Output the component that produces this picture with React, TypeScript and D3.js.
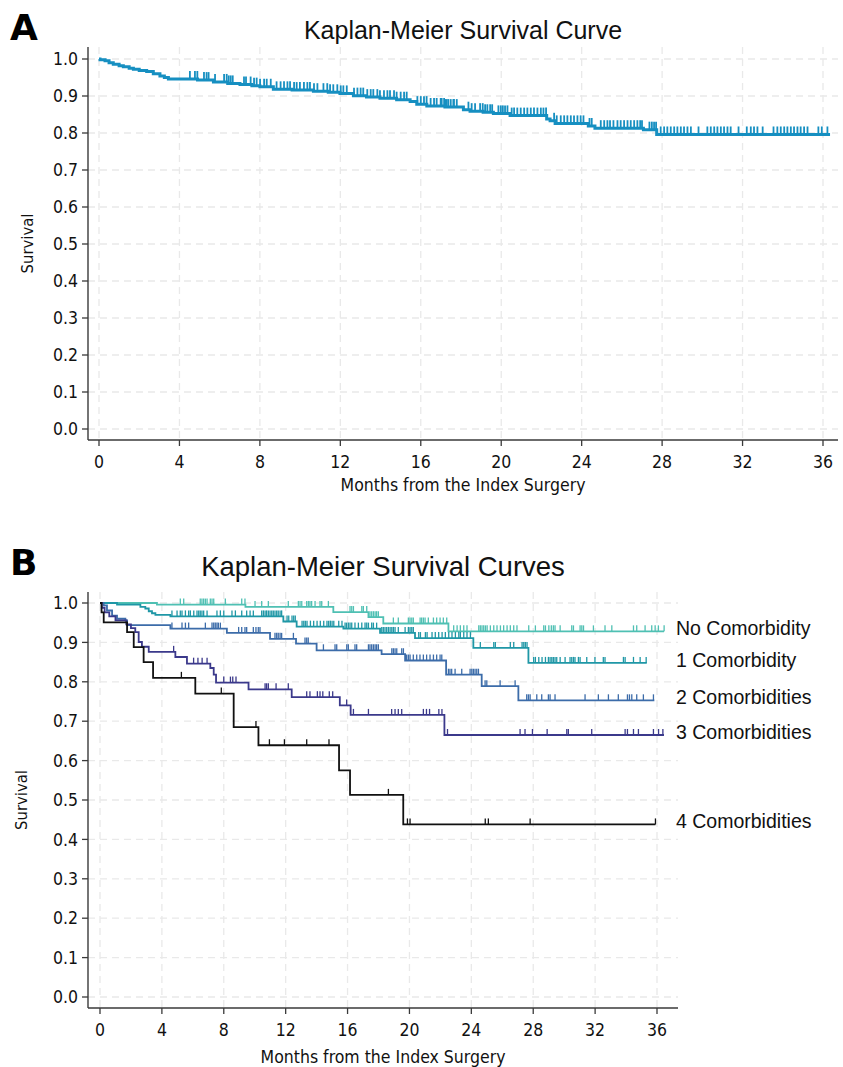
import React from "react";
import * as d3 from "d3";

// ---------- shared ticks ----------
const monthTicks = [0, 4, 8, 12, 16, 20, 24, 28, 32, 36];
const survivalTicks = [0, 0.1, 0.2, 0.3, 0.4, 0.5, 0.6, 0.7, 0.8, 0.9, 1.0];

// ---------- Panel A: overall cohort ----------
const overallEventMonths = [0.05, 0.3, 0.5, 0.71, 1.0, 1.21, 1.5, 1.71, 2.0, 2.37, 2.7, 3.03, 3.25, 3.45, 4.9, 5.69, 6.4, 7.01, 7.6, 8.0, 8.67, 9.6, 10.66, 11.4, 11.98, 12.65, 13.3, 13.97, 14.8, 15.47, 15.8, 16.3, 17.2, 18.12, 18.45, 19.1, 19.61, 20.44, 22.26, 22.43, 22.68, 24.33, 24.66, 27.07, 27.73];
const overallSurvival = [0.998, 0.995, 0.99, 0.986, 0.982, 0.979, 0.975, 0.972, 0.969, 0.966, 0.96, 0.954, 0.95, 0.946, 0.943, 0.938, 0.934, 0.931, 0.928, 0.925, 0.918, 0.916, 0.913, 0.91, 0.907, 0.901, 0.897, 0.894, 0.89, 0.885, 0.878, 0.873, 0.87, 0.863, 0.859, 0.856, 0.853, 0.847, 0.838, 0.833, 0.826, 0.819, 0.813, 0.809, 0.796];
const overallCensorMonths = [4.52, 4.77, 4.89, 5.22, 5.35, 5.45, 5.77, 6.22, 6.35, 6.45, 6.55, 6.65, 7.21, 7.31, 7.54, 7.71, 7.84, 8.01, 8.21, 8.34, 8.54, 8.83, 9.03, 9.2, 9.37, 9.5, 9.7, 9.83, 9.99, 10.19, 10.36, 10.49, 10.69, 10.86, 11.16, 11.35, 11.49, 11.65, 11.85, 12.02, 12.15, 12.32, 12.68, 12.85, 13.01, 13.14, 13.34, 13.51, 13.64, 13.84, 13.97, 14.17, 14.34, 14.47, 14.67, 14.8, 15.0, 15.17, 15.3, 15.83, 16.0, 16.16, 16.29, 16.49, 16.66, 16.79, 16.99, 17.16, 17.29, 17.49, 17.65, 17.79, 17.04, 17.21, 17.37, 17.62, 18.37, 18.53, 18.7, 18.95, 19.08, 19.2, 19.31, 19.45, 19.55, 19.86, 19.98, 20.08, 20.19, 20.31, 20.52, 20.64, 20.8, 20.97, 21.14, 21.3, 21.47, 21.63, 21.8, 21.97, 22.1, 22.23, 22.63, 22.76, 22.96, 23.13, 23.29, 23.46, 23.62, 23.79, 23.95, 24.09, 24.39, 24.5, 24.95, 25.12, 25.28, 25.41, 25.58, 25.78, 25.94, 26.11, 26.28, 26.44, 26.61, 26.77, 26.91, 27.0, 27.37, 27.49, 27.6, 27.7, 27.93, 28.1, 28.26, 28.43, 28.6, 28.76, 28.93, 29.09, 29.26, 29.43, 29.81, 30.25, 30.42, 30.59, 30.75, 30.92, 31.08, 31.25, 31.41, 31.8, 32.21, 32.41, 32.57, 32.74, 33.0, 33.54, 33.73, 33.9, 34.07, 34.23, 34.4, 34.56, 34.73, 34.89, 35.06, 35.23, 35.77, 35.94, 36.22];
const overallEndMonth = 36.35;

// ---------- Panel B: by comorbidity count ----------
const groupLabels = ["No Comorbidity", "1 Comorbidity", "2 Comorbidities", "3 Comorbidities", "4 Comorbidities"];
const groupColors = ["#4fc0b3", "#1f97a6", "#3c6ca9", "#3b398b", "#111111"];

const noneEventMonths = [3.68, 9.4, 15.08, 17.35, 18.31, 22.52];
const noneSurvival = [0.996, 0.99, 0.977, 0.964, 0.948, 0.928];
const noneCensorMonths = [5.19, 5.41, 6.48, 6.59, 6.7, 6.81, 6.92, 7.13, 7.24, 7.35, 8.1, 9.16, 9.37, 10.02, 10.45, 10.88, 12.17, 12.82, 12.93, 13.04, 13.36, 13.47, 13.57, 13.68, 13.9, 14.22, 14.33, 14.76, 16.16, 16.27, 16.38, 16.92, 17.02, 17.24, 17.45, 17.56, 17.67, 17.78, 17.88, 17.99, 18.96, 19.28, 19.93, 20.04, 20.15, 20.25, 20.69, 20.79, 20.9, 21.01, 21.22, 21.55, 21.76, 21.98, 22.19, 22.41, 22.86, 23.08, 23.29, 23.51, 23.72, 24.48, 24.58, 24.69, 24.8, 24.91, 25.02, 25.23, 25.45, 25.66, 25.88, 26.09, 26.31, 26.52, 26.74, 26.95, 27.71, 28.14, 28.68, 28.79, 29.01, 29.17, 29.3, 29.41, 29.74, 30.49, 30.6, 31.03, 31.14, 31.25, 31.89, 32.64, 33.08, 34.48, 34.69, 35.23, 35.66, 35.88, 36.09, 36.46];
const noneEndMonth = 36.46;

const oneEventMonths = [1.1, 2.61, 2.93, 3.15, 3.36, 3.58, 4.55, 11.85, 12.71, 15.73, 18.1, 20.36, 24.13, 27.69];
const oneSurvival = [0.996, 0.99, 0.986, 0.979, 0.974, 0.97, 0.966, 0.953, 0.94, 0.935, 0.924, 0.911, 0.886, 0.848];
const oneCensorMonths = [4.65, 4.98, 5.19, 5.3, 5.52, 5.73, 5.84, 6.06, 6.27, 6.38, 6.48, 6.59, 6.7, 6.92, 7.56, 7.78, 8.0, 8.53, 8.75, 9.16, 9.48, 9.7, 9.91, 10.45, 10.56, 10.67, 10.77, 10.88, 10.99, 11.1, 11.2, 11.31, 11.42, 11.52, 11.64, 11.74, 12.09, 12.2, 12.41, 12.52, 12.62, 13.06, 13.17, 13.27, 13.38, 13.6, 13.81, 14.03, 14.24, 14.46, 14.67, 14.78, 14.89, 15.0, 15.11, 15.43, 15.64, 15.84, 15.94, 16.05, 16.16, 16.27, 16.48, 16.7, 16.92, 17.13, 17.24, 17.35, 17.56, 17.67, 17.88, 18.21, 18.31, 18.42, 18.53, 18.64, 18.75, 18.86, 18.96, 19.07, 19.28, 19.72, 19.93, 20.04, 20.15, 20.25, 20.6, 20.71, 21.03, 21.14, 21.46, 21.67, 21.89, 22.11, 22.32, 22.54, 22.75, 22.97, 23.19, 23.29, 23.51, 23.72, 23.94, 24.58, 25.45, 25.55, 26.52, 26.74, 27.28, 27.39, 27.49, 27.6, 28.03, 28.14, 28.36, 28.57, 28.79, 28.98, 29.09, 29.2, 29.3, 29.41, 29.52, 29.74, 30.06, 30.38, 30.49, 30.6, 30.7, 30.92, 31.03, 31.46, 31.99, 32.53, 32.64, 33.83, 33.94, 34.48, 34.91, 35.3];
const oneEndMonth = 35.34;

const twoEventMonths = [0.24, 0.45, 0.78, 1.1, 1.64, 1.75, 4.55, 8.2, 10.99, 12.67, 14.0, 18.2, 19.72, 22.37, 24.67, 27.04];
const twoSurvival = [0.994, 0.981, 0.968, 0.96, 0.956, 0.944, 0.935, 0.924, 0.909, 0.897, 0.88, 0.87, 0.854, 0.818, 0.789, 0.753];
const twoCensorMonths = [4.65, 5.3, 5.52, 5.73, 6.81, 7.24, 7.35, 7.45, 7.56, 7.65, 7.78, 8.96, 9.16, 9.37, 9.48, 9.91, 10.08, 10.23, 10.34, 11.31, 11.42, 11.52, 11.64, 11.74, 12.5, 13.25, 13.36, 13.46, 14.44, 15.19, 15.3, 15.95, 16.05, 16.48, 16.59, 17.35, 17.45, 17.56, 17.67, 17.78, 17.88, 17.99, 18.86, 18.96, 19.07, 19.18, 19.5, 19.61, 19.82, 19.93, 20.04, 20.25, 20.47, 20.68, 20.9, 21.11, 21.33, 21.55, 21.76, 21.98, 22.09, 22.52, 22.62, 22.73, 22.95, 23.38, 23.92, 24.03, 24.13, 24.24, 24.35, 24.46, 24.89, 25.0, 25.86, 26.83, 27.58, 27.69, 27.8, 28.23, 28.55, 28.98, 29.09, 29.41, 31.35, 32.21, 32.86, 33.5, 34.09, 34.22, 34.37, 34.69, 35.12, 35.77];
const twoEndMonth = 35.83;

const threeEventMonths = [0.12, 0.3, 0.6, 1.0, 1.7, 2.0, 2.28, 2.5, 2.71, 3.15, 4.87, 5.62, 7.13, 7.35, 7.5, 9.6, 12.39, 15.5, 16.2, 22.26];
const threeSurvival = [0.988, 0.976, 0.966, 0.956, 0.946, 0.936, 0.926, 0.901, 0.889, 0.876, 0.863, 0.846, 0.835, 0.818, 0.798, 0.781, 0.761, 0.74, 0.716, 0.665];
const threeCensorMonths = [4.76, 6.05, 6.33, 6.6, 6.92, 8.0, 8.43, 8.58, 8.79, 10.67, 10.77, 10.88, 11.38, 12.17, 13.36, 13.57, 14.05, 14.22, 14.4, 14.82, 15.04, 15.94, 16.38, 17.35, 18.85, 19.07, 19.28, 19.5, 20.9, 21.1, 21.3, 21.9, 22.1, 22.46, 27.15, 27.47, 27.95, 28.9, 30.17, 30.27, 31.78, 33.94, 34.09, 34.48, 34.8, 35.77, 36.1, 36.38];
const threeEndMonth = 36.45;

const fourEventMonths = [0.1, 0.24, 1.75, 2.18, 2.82, 3.43, 6.16, 8.64, 10.24, 15.45, 16.16, 19.6];
const fourSurvival = [0.976, 0.951, 0.926, 0.888, 0.85, 0.81, 0.77, 0.685, 0.639, 0.575, 0.513, 0.438];
const fourCensorMonths = [5.26, 7.84, 10.08, 10.95, 11.92, 13.36, 14.8, 18.64, 19.87, 20.04, 24.9, 25.1, 27.8, 35.9];
const fourEndMonth = 35.9;

const groupEvents = [noneEventMonths, oneEventMonths, twoEventMonths, threeEventMonths, fourEventMonths];
const groupSurvival = [noneSurvival, oneSurvival, twoSurvival, threeSurvival, fourSurvival];
const groupCensors = [noneCensorMonths, oneCensorMonths, twoCensorMonths, threeCensorMonths, fourCensorMonths];
const groupEnds = [noneEndMonth, oneEndMonth, twoEndMonth, threeEndMonth, fourEndMonth];

// ---------- helpers ----------
const TICK_FONT = "'DejaVu Sans Condensed', 'Liberation Sans', Arial, sans-serif";
const TEXT_FONT = "'Liberation Sans', Helvetica, Arial, sans-serif";
const fmt = d3.format(".1f");

function survAt(events: number[], surv: number[], t: number) {
  const i = d3.bisectRight(events, t);
  return i === 0 ? 1 : surv[i - 1];
}

function curvePoints(events: number[], surv: number[], end: number): [number, number][] {
  const pts: [number, number][] = [[0, 1]];
  events.forEach((t, i) => pts.push([t, surv[i]]));
  pts.push([end, surv[surv.length - 1]]);
  return pts;
}

type Frame = {
  x: d3.ScaleLinear<number, number>;
  y: d3.ScaleLinear<number, number>;
  left: number;
  right: number;
  top: number;
  bottom: number;
};

function AxesAndGrid({ f, tickSize, labelOffsetX, labelOffsetY }: { f: Frame; tickSize: number; labelOffsetX: number; labelOffsetY: number }) {
  return (
    <g>
      {monthTicks.map((m) => (
        <line key={"gx" + m} x1={f.x(m)} x2={f.x(m)} y1={f.top} y2={f.bottom} stroke="#e9e9e9" strokeWidth={1.3} strokeDasharray="7 5" />
      ))}
      {survivalTicks.map((s) => (
        <line key={"gy" + s} x1={f.left} x2={f.right} y1={f.y(s)} y2={f.y(s)} stroke="#e9e9e9" strokeWidth={1.3} strokeDasharray="7 5" />
      ))}
      <line x1={f.left} x2={f.left} y1={f.top} y2={f.bottom} stroke="#3a3a3a" strokeWidth={1.4} />
      <line x1={f.left} x2={f.right} y1={f.bottom} y2={f.bottom} stroke="#3a3a3a" strokeWidth={1.4} />
      {survivalTicks.map((s) => (
        <g key={"ty" + s}>
          <line x1={f.left - 6} x2={f.left} y1={f.y(s)} y2={f.y(s)} stroke="#3a3a3a" strokeWidth={1.3} />
          <text x={f.left - labelOffsetX} y={f.y(s)} dy="0.35em" textAnchor="end" fontFamily={TICK_FONT} fontSize={tickSize} fill="#111">
            {fmt(s)}
          </text>
        </g>
      ))}
      {monthTicks.map((m) => (
        <g key={"tx" + m}>
          <line x1={f.x(m)} x2={f.x(m)} y1={f.bottom} y2={f.bottom + 6} stroke="#3a3a3a" strokeWidth={1.3} />
          <text x={f.x(m)} y={f.bottom + labelOffsetY} dy="0.35em" textAnchor="middle" fontFamily={TICK_FONT} fontSize={tickSize} fill="#111">
            {m}
          </text>
        </g>
      ))}
    </g>
  );
}

function KMCurve({ f, events, surv, censors, end, color, width, tick }: { f: Frame; events: number[]; surv: number[]; censors: number[]; end: number; color: string; width: number; tick: number }) {
  const line = d3
    .line<[number, number]>()
    .x((d) => f.x(d[0]))
    .y((d) => f.y(d[1]))
    .curve(d3.curveStepAfter);
  const d = line(curvePoints(events, surv, end)) || "";
  return (
    <g>
      <path d={d} fill="none" stroke={color} strokeWidth={width} strokeLinejoin="miter" />
      {censors.map((t, i) => {
        const yy = f.y(survAt(events, surv, t));
        return <line key={i} x1={f.x(t)} x2={f.x(t)} y1={yy} y2={yy - tick} stroke={color} strokeWidth={Math.max(1.3, width * 0.6)} />;
      })}
    </g>
  );
}

export default function App() {
  const fA: Frame = {
    x: d3.scaleLinear().domain([0, 36]).range([99, 823]),
    y: d3.scaleLinear().domain([0, 1]).range([429, 59]),
    left: 88,
    right: 838,
    top: 47,
    bottom: 440,
  };
  const fB: Frame = {
    x: d3.scaleLinear().domain([0, 36]).range([100, 657]),
    y: d3.scaleLinear().domain([0, 1]).range([997, 603]),
    left: 88,
    right: 678,
    top: 592,
    bottom: 1008,
  };

  return (
    <svg width={843} height={1067} style={{ position: "absolute", left: 0, top: 0, background: "#fff" }}>
      <rect x={0} y={0} width={843} height={1067} fill="#fff" />

      {/* Panel A */}
      <text x={10} y={40} fontFamily="'DejaVu Sans', sans-serif" fontWeight="bold" fontSize={36} fill="#000">A</text>
      <text x={(fA.left + fA.right) / 2} y={39} textAnchor="middle" fontFamily={TEXT_FONT} fontSize={25} fill="#111">
        Kaplan-Meier Survival Curve
      </text>
      <AxesAndGrid f={fA} tickSize={17.5} labelOffsetX={10} labelOffsetY={22} />
      <KMCurve f={fA} events={overallEventMonths} surv={overallSurvival} censors={overallCensorMonths} end={overallEndMonth} color="#168fc1" width={3} tick={8} />
      <text transform={`translate(33,${(fA.top + fA.bottom) / 2}) rotate(-90)`} textAnchor="middle" fontFamily={TICK_FONT} fontSize={16.5} fill="#111">
        Survival
      </text>
      <text x={(fA.left + fA.right) / 2} y={fA.bottom + 45} dy="0.35em" textAnchor="middle" fontFamily={TICK_FONT} fontSize={17.5} fill="#111">
        Months from the Index Surgery
      </text>

      {/* Panel B */}
      <text x={10} y={575} fontFamily="'DejaVu Sans', sans-serif" fontWeight="bold" fontSize={36} fill="#000">B</text>
      <text x={(fB.left + fB.right) / 2} y={576} textAnchor="middle" fontFamily={TEXT_FONT} fontSize={27.5} fill="#111">
        Kaplan-Meier Survival Curves
      </text>
      <AxesAndGrid f={fB} tickSize={17.5} labelOffsetX={10} labelOffsetY={22} />
      {groupLabels.map((lab, i) => (
        <KMCurve key={lab} f={fB} events={groupEvents[i]} surv={groupSurvival[i]} censors={groupCensors[i]} end={groupEnds[i]} color={groupColors[i]} width={1.8} tick={6} />
      ))}
      {groupLabels.map((lab, i) => {
        const last = groupSurvival[i][groupSurvival[i].length - 1];
        return (
          <text key={"l" + lab} x={676} y={fB.y(last) - 3} dy="0.35em" fontFamily={TEXT_FONT} fontSize={19.5} fill="#111">
            {lab}
          </text>
        );
      })}
      <text transform={`translate(27,${(fB.top + fB.bottom) / 2}) rotate(-90)`} textAnchor="middle" fontFamily={TICK_FONT} fontSize={16.5} fill="#111">
        Survival
      </text>
      <text x={(fB.left + fB.right) / 2} y={fB.bottom + 49} dy="0.35em" textAnchor="middle" fontFamily={TICK_FONT} fontSize={17.5} fill="#111">
        Months from the Index Surgery
      </text>
    </svg>
  );
}
